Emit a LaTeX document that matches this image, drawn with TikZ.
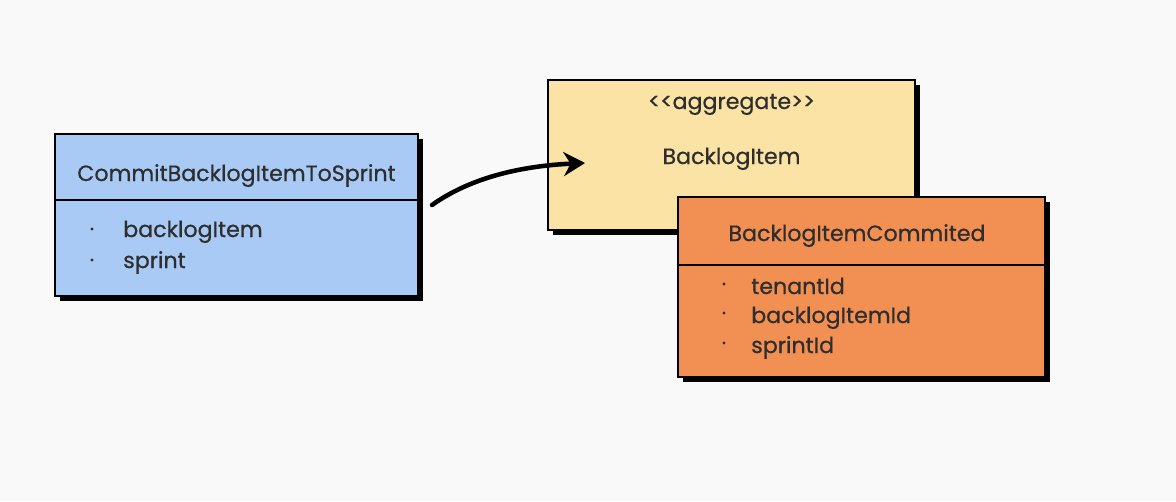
\documentclass[tikz,border=0pt]{standalone}
\usepackage{fontspec}
\setmainfont[FakeBold=0.6]{Poppins}
\usetikzlibrary{arrows.meta,shadows}
\definecolor{bg}{HTML}{F9F9F9}
\definecolor{cblue}{HTML}{A8CAF5}
\definecolor{cyellow}{HTML}{FBE3A5}
\definecolor{corange}{HTML}{F28F52}
\definecolor{txt}{HTML}{2E2E2E}
\tikzset{
  box/.style={draw=black, line width=2.2pt, rectangle, inner sep=0pt,
    drop shadow={shadow xshift=4pt, shadow yshift=-4pt, fill=black, opacity=1}},
  lbl/.style={text=txt, font=\fontsize{16.6}{18}\selectfont, inner sep=0pt, anchor=base west},
  ttl/.style={text=txt, font=\fontsize{16.6}{18}\selectfont, inner sep=0pt, anchor=base},
  dot/.style={circle, fill=txt, inner sep=0pt, minimum size=2.5pt},
  divider/.style={line width=2.2pt, black},
}
\begin{document}
\begin{tikzpicture}[x=0.75pt, y=-0.75pt]
\fill[bg] (0,0) rectangle (1176,501);
\useasboundingbox (0,0) rectangle (1176,501);
% blue box
\node[box, fill=cblue, minimum width=272.25pt, minimum height=121.5pt] (blue) at (236.5,215) {};
\draw[divider] (blue.west |- 0,200) -- (blue.east |- 0,200);
\node[ttl] (bt) at (236.5,181) {CommitBacklogItemToSprint};
\node[dot] (bd1) at (92,229) {};
\node[lbl] (b1) at (123,237) {backlogItem};
\node[dot] (bd2) at (92,260) {};
\node[lbl] (b2) at (123,268) {sprint};
% yellow box
\node[box, fill=cyellow, minimum width=275.25pt, minimum height=112.5pt] (yellow) at (731.5,155) {};
\node[ttl] (yt1) at (731.5,109) {{<}{<}aggregate{>}{>}};
\node[ttl] (yt2) at (731.5,164) {BacklogItem};
% orange box
\node[box, fill=corange, minimum width=275.25pt, minimum height=135pt] (orange) at (861.5,287) {};
\draw[divider] (orange.west |- 0,265) -- (orange.east |- 0,265);
\node[ttl] (ot) at (857,241) {BacklogItemCommited};
\node[dot] (od1) at (724,284) {};
\node[lbl] (o1) at (751,294) {tenantId};
\node[dot] (od2) at (724,313) {};
\node[lbl] (o2) at (751,323) {backlogItemId};
\node[dot] (od3) at (724,343) {};
\node[lbl] (o3) at (751,353) {sprintId};
% arrow
\coordinate (as) at (432,205);
\coordinate (ae) at (585,163);
\draw[line width=3.4pt, line cap=round, -{Stealth[length=16pt,width=18pt]}] (as) .. controls (470,178) and (520,166) .. (ae);
\end{tikzpicture}
\end{document}
